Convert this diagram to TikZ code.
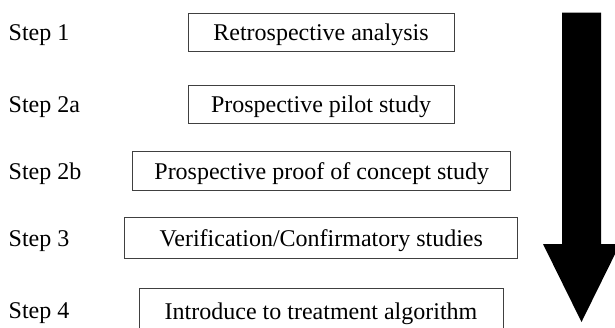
\documentclass[tikz,border=0pt]{standalone}
\usepackage{fontspec}
\setmainfont{Liberation Serif}
\begin{document}
\begin{tikzpicture}[x=1pt,y=-1pt,
  stagebox/.style={draw=black!75,line width=0.8pt,inner sep=0pt,minimum height=38.5pt,
    text height=21pt,text depth=4pt,font=\fontsize{24}{26}\selectfont},
  steplabel/.style={anchor=west,inner sep=0pt,text height=21pt,text depth=4pt,
    font=\fontsize{24}{26}\selectfont}]
\useasboundingbox (0,0) rectangle (615,327);
\begin{scope}
\clip (0,0) rectangle (615,327);
\node[stagebox,minimum width=266pt] (b1) at (321,32.3) {Retrospective analysis};
\node[stagebox,minimum width=266pt] (b2) at (321,104.3) {Prospective pilot study};
\node[stagebox,minimum width=378pt,minimum height=39pt] (b3) at (321.7,170.5) {Prospective proof of concept study};
\node[stagebox,minimum width=393pt,minimum height=41pt] (b4) at (321.3,238) {Verification/Confirmatory studies};
\node[stagebox,minimum width=364pt,minimum height=44pt] (b5) at (321,310.5) {Introduce to treatment algorithm};
\node[steplabel] (s1) at (8.5,32.3) {Step 1};
\node[steplabel] (s2a) at (8.5,104.3) {Step 2a};
\node[steplabel] (s2b) at (8.5,170.5) {Step 2b};
\node[steplabel] (s3) at (8.5,238) {Step 3};
\node[steplabel] (s4) at (8.5,309.5) {Step 4};
\fill[black] (562,12.7) -- (601,12.7) -- (601,244) -- (620,244) -- (581.5,322) -- (543,244) -- (562,244) -- cycle;
\end{scope}
\end{tikzpicture}
\end{document}
